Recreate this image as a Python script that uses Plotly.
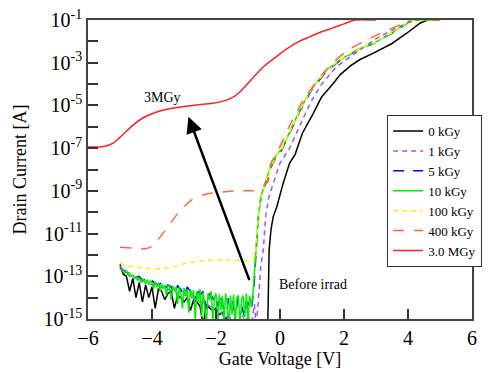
import plotly.graph_objects as go

# ---------------- data (log10 of drain current) ----------------
vg_noise = [-5.0, -4.9, -4.8, -4.7, -4.6, -4.5, -4.4, -4.3, -4.2, -4.1, -4.0,
            -3.9, -3.8, -3.7, -3.6, -3.5, -3.4, -3.3, -3.2, -3.1, -3.0,
            -2.9, -2.8, -2.7, -2.6, -2.5, -2.4, -2.3, -2.2, -2.1, -2.0,
            -1.9, -1.8, -1.7, -1.6, -1.5, -1.4, -1.3, -1.2, -1.1, -1.0, -0.9]

vg_noise_fine = [-5.00, -4.95, -4.90, -4.85, -4.80, -4.75, -4.70, -4.65, -4.60, -4.55,
                 -4.50, -4.45, -4.40, -4.35, -4.30, -4.25, -4.20, -4.15, -4.10, -4.05,
                 -4.00, -3.95, -3.90, -3.85, -3.80, -3.75, -3.70, -3.65, -3.60, -3.55,
                 -3.50, -3.45, -3.40, -3.35, -3.30, -3.25, -3.20, -3.15, -3.10, -3.05,
                 -3.00, -2.95, -2.90, -2.85, -2.80, -2.75, -2.70, -2.65, -2.60, -2.55,
                 -2.50, -2.45, -2.40, -2.35, -2.30, -2.25, -2.20, -2.15, -2.10, -2.05,
                 -2.00, -1.95, -1.90, -1.85, -1.80, -1.75, -1.70, -1.65, -1.60, -1.55,
                 -1.50, -1.45, -1.40, -1.35, -1.30, -1.25, -1.20, -1.15, -1.10, -1.05,
                 -1.00, -0.95, -0.90, -0.85]

# 0 kGy
k0_noise = [-12.45, -12.9, -13.0, -13.7, -13.1, -14.0, -13.3, -14.2, -13.4, -14.0, -13.5,
            -14.5, -13.6, -13.7, -14.1, -13.8, -13.7, -14.5, -13.9, -14.0, -14.2,
            -14.0, -14.6, -14.1, -14.2, -14.4, -15.3, -14.3, -14.5, -14.6, -14.5,
            -14.8, -14.7, -15.0, -14.9, -15.2, -15.1, -15.3, -15.4, -15.5, -15.5, -15.5]
k0_vg_on = [-0.385, -0.34, -0.28, -0.21, -0.1, 0.1, 0.3, 0.47, 0.7, 1.04, 1.3, 1.67,
            1.875, 2.2, 2.5, 2.92, 3.5, 3.96, 4.375, 4.6, 5.0]
k0_on = [-15.5, -11.77, -10.8, -10.2, -9.74, -8.64, -7.7, -7.3, -6.3, -5.37, -4.6, -3.96,
         -3.57, -3.15, -2.85, -2.55, -2.1, -1.62, -1.15, -1.0, -1.0]

# 1 kGy
k1_noise = [-12.6, -12.8, -12.85, -13.0, -13.0, -13.1, -13.15, -13.2, -13.3, -13.3, -13.4,
            -13.4, -13.5, -13.5, -13.6, -13.6, -13.7, -13.7, -13.8, -13.8, -13.9,
            -13.9, -14.0, -14.0, -14.1, -14.2, -14.2, -14.3, -14.4, -14.5, -14.6,
            -14.5, -14.8, -15.0, -14.7, -15.3, -14.9, -15.4, -14.6, -15.2, -14.8, -15.4]
k1_vg_on = [-0.8, -0.75, -0.7, -0.6, -0.52, -0.45, -0.35, -0.21, 0.0, 0.3, 0.6, 0.94,
            1.3, 1.77, 1.98, 2.5, 3.02, 3.6, 4.0, 4.3, 5.0]
k1_on = [-14.3, -15.2, -14.6, -12.5, -11.77, -10.2, -9.3, -8.64, -7.7, -7.0, -6.0, -4.9,
         -4.0, -3.18, -2.95, -2.4, -1.86, -1.4, -1.12, -1.0, -1.0]

# 5 kGy
k5_noise = [-12.55, -12.7, -12.8, -12.9, -12.95, -13.05, -13.0, -13.2, -13.15, -13.3, -13.2,
            -13.35, -13.4, -13.3, -13.6, -13.4, -13.5, -13.8, -13.45, -13.6, -13.9,
            -13.5, -13.7, -14.3, -13.6, -13.9, -13.7, -14.5, -13.8, -14.0, -14.6,
            -13.9, -14.2, -15.2, -13.9, -14.1, -14.8, -14.0, -14.4, -14.9, -14.2, -14.6]
k5_vg_on = [-0.85, -0.8, -0.75, -0.68, -0.6, -0.47, -0.3, -0.1, 0.05, 0.3, 0.625, 1.0,
            1.46, 1.875, 2.4, 2.92, 3.5, 3.96, 4.1, 5.0]
k5_on = [-14.0, -13.2, -11.9, -10.3, -9.35, -8.7, -7.95, -7.35, -7.1, -6.3, -5.25, -4.25,
         -3.38, -2.9, -2.42, -2.1, -1.62, -1.17, -1.0, -1.0]

# 10 kGy
k10_noise = [-12.55, -12.6, -12.7, -12.85, -12.75, -12.9, -12.85, -13.0, -12.95, -13.1,
             -13.0, -13.2, -13.05, -13.3, -13.1, -13.2, -13.35, -13.15, -13.4, -13.2,
             -13.3, -13.6, -13.25, -13.5, -13.3, -13.7, -13.35, -13.6, -13.4, -13.9,
             -13.4, -13.5, -14.1, -13.45, -13.7, -13.5, -14.3, -13.5, -13.8, -14.5,
             -13.55, -13.9, -13.6, -14.7, -13.6, -14.0, -13.65, -15.0, -13.7, -14.2,
             -13.6, -14.9, -13.75, -14.4, -15.3, -13.8, -14.1, -13.7, -15.2, -14.0,
             -13.8, -15.4, -13.85, -14.6, -13.9, -15.3, -13.8, -14.3, -15.4, -13.9,
             -14.8, -13.85, -15.3, -14.0, -13.9, -15.4, -14.1, -13.9, -14.9, -13.8,
             -15.2, -13.9, -14.4, -13.9]
k10_vg_on = [-0.8, -0.75, -0.68, -0.6, -0.47, -0.3, -0.1, 0.05, 0.3, 0.625, 1.0,
             1.46, 1.875, 2.4, 2.92, 3.5, 3.96, 4.1, 5.0]
k10_on = [-13.0, -11.8, -10.2, -9.3, -8.64, -7.9, -7.3, -7.05, -6.25, -5.2, -4.2,
          -3.34, -2.87, -2.4, -2.09, -1.6, -1.15, -1.0, -1.0]

# 100 kGy
k100_vg = [-5.0, -4.9, -4.6, -4.2, -3.8, -3.4, -3.0, -2.6, -2.2, -1.8, -1.4, -1.0, -0.9,
           -0.82, -0.76, -0.7, -0.62, -0.47, -0.3, -0.1, 0.05, 0.3, 0.625, 1.0,
           1.46, 1.875, 2.4, 2.92, 3.5, 3.96, 4.1, 5.0]
k100 = [-12.35, -12.45, -12.55, -12.62, -12.65, -12.6, -12.4, -12.3, -12.25, -12.23, -12.25,
        -12.28, -12.3, -12.2, -11.9, -10.6, -9.5, -8.64, -7.9, -7.3, -7.05, -6.25, -5.2, -4.2,
        -3.34, -2.87, -2.4, -2.09, -1.6, -1.15, -1.0, -1.0]

# 400 kGy
k400_vg = [-5.0, -4.6, -4.23, -4.0, -3.86, -3.5, -3.19, -2.77, -2.4, -1.94, -1.21, -0.84,
           -0.6, -0.375, -0.31, -0.05, 0.0, 0.35, 0.73, 1.3, 1.7, 2.13, 2.92, 3.4, 3.85, 3.95, 5.0]
k400 = [-11.64, -11.68, -11.72, -11.6, -11.38, -10.68, -10.05, -9.43, -9.19, -9.07, -8.99, -8.99,
        -8.85, -8.57, -7.8, -7.09, -6.93, -5.8, -4.75, -3.57, -2.95, -2.4, -1.78, -1.45, -1.15,
        -1.0, -1.0]

# 3.0 MGy
m3_vg = [-6.0, -5.5, -5.2, -4.9, -4.69, -4.3, -3.9, -3.5, -3.0, -2.6, -2.1, -1.67, -1.45,
         -1.25, -0.9, -0.52, -0.1, 0.21, 0.6, 0.94, 1.3, 1.66, 2.0, 2.34, 3.0]
m3 = [-6.95, -6.92, -6.75, -6.35, -6.05, -5.6, -5.33, -5.17, -5.05, -4.98, -4.9, -4.75, -4.6,
      -4.36, -3.8, -3.19, -2.7, -2.35, -2.0, -1.78, -1.55, -1.37, -1.18, -1.0, -1.0]

y_tick_exp = [-1, -2, -3, -4, -5, -6, -7, -8, -9, -10, -11, -12, -13, -14, -15]
x_ticks = [-6, -4, -2, 0, 2, 4, 6]

FONT = "'Liberation Serif', 'Times New Roman', Times, serif"


def to_amp(logs):
    return [10 ** v for v in logs]


series = [
    ("0 kGy", vg_noise + k0_vg_on, k0_noise + k0_on, "#000000", "solid", "linear"),
    ("1 kGy", vg_noise + k1_vg_on, k1_noise + k1_on, "#9955FF", "5px,4px", "linear"),
    ("5 kGy", vg_noise + k5_vg_on, k5_noise + k5_on, "#0000FF", "11px,9px", "linear"),
    ("10 kGy", vg_noise_fine + k10_vg_on, k10_noise + k10_on, "#00EE00", "solid", "linear"),
    ("100 kGy", k100_vg, k100, "#FFEE00", "5px,4px", "linear"),
    ("400 kGy", k400_vg, k400, "#FF6633", "11px,10px", "spline"),
    ("3.0 MGy", m3_vg, m3, "#FF2020", "solid", "spline"),
]

fig = go.Figure()
for name, xs, ys, color, dash, shape in series:
    assert len(xs) == len(ys), name
    fig.add_trace(go.Scatter(x=xs, y=to_amp(ys), mode="lines", name=name,
                             line=dict(color=color, width=1.5, dash=dash, shape=shape,
                                       smoothing=0.6)))

ticktext = []
for e in y_tick_exp:
    ticktext.append("10<sup>%d</sup>" % e if e % 2 else "")

fig.update_layout(
    width=490, height=373,
    margin=dict(l=88, r=18, t=20, b=54, autoexpand=False),
    paper_bgcolor="white", plot_bgcolor="white",
    font=dict(family=FONT, size=18, color="black"),
    showlegend=True,
    legend=dict(x=0.779, y=0.682, xanchor="left", yanchor="top",
                bordercolor="#333333", borderwidth=1, bgcolor="white",
                font=dict(family=FONT, size=13), tracegroupgap=0,
                itemwidth=30),
    xaxis=dict(range=[-6, 6], tickvals=x_ticks, ticks="inside", ticklen=10,
               tickcolor="#333333", tickwidth=1.5, showline=True, linecolor="#444444",
               linewidth=1.5, mirror=True, showgrid=False, zeroline=False,
               automargin=False,
               title=dict(text="Gate Voltage [V]", font=dict(family=FONT, size=18),
                          standoff=5),
               tickfont=dict(family=FONT, size=20)),
    yaxis=dict(type="log", range=[-15, -1], tickvals=[10 ** e for e in y_tick_exp],
               ticktext=ticktext, ticks="inside", ticklen=10, tickcolor="#333333",
               tickwidth=1.5, showline=True, linecolor="#444444", linewidth=1.5,
               mirror=True, showgrid=False, zeroline=False, automargin=False,
               title=dict(text="Drain Current [A]", font=dict(family=FONT, size=18),
                          standoff=12),
               tickfont=dict(family=FONT, size=20)),
)

fig.add_annotation(x=-2.86, y=-5.53, ax=-0.94, ay=-13.25, xref="x", yref="y",
                   axref="x", ayref="y", text="", showarrow=True, arrowhead=2,
                   arrowsize=1.3, arrowwidth=2.5, arrowcolor="black")
fig.add_annotation(x=-3.67, y=-4.63, xref="x", yref="y", text="3MGy", showarrow=False,
                   font=dict(family=FONT, size=14, color="black"))
fig.add_annotation(x=-0.1, y=-13.4, xref="x", yref="y", text="Before irrad",
                   showarrow=False, xanchor="left",
                   font=dict(family=FONT, size=14, color="black"))

fig.write_html("out.html")
